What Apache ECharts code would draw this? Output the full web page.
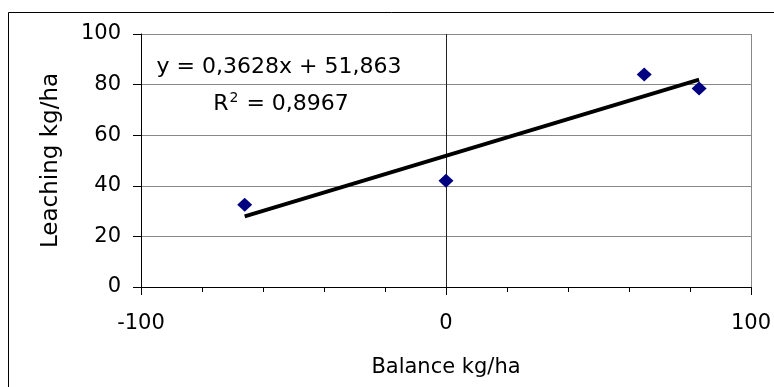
<!DOCTYPE html>
<html>
<head>
<meta charset="utf-8">
<script src="https://cdn.jsdelivr.net/npm/echarts@6/dist/echarts.min.js"></script>
<style>html,body{margin:0;padding:0;background:#fff;}#c{width:774px;height:387px;}</style>
</head>
<body>
<div id="c"></div>
<script>
const balance = [-66, 0, 65, 83];
const leaching = [32.5, 42, 84, 78.5];
const trendSlope = 0.3628;
const trendIntercept = 51.863;
const xTicks = [-100, 0, 100];
const yTicks = [0, 20, 40, 60, 80, 100];
const eqText = 'y = 0,3628x + 51,863';
const r2Text = '0,8967';

const points = balance.map((x, i) => [x, leaching[i]]);
const xMin = Math.min(...balance), xMax = Math.max(...balance);
const trend = [[xMin, trendSlope * xMin + trendIntercept], [xMax, trendSlope * xMax + trendIntercept]];

const FONT = 'DejaVu Sans';
const chart = echarts.init(document.getElementById('c'), null, {renderer: 'canvas'});
chart.setOption({
  animation: false,
  backgroundColor: '#fff',
  textStyle: {fontFamily: FONT},
  grid: {left: 141, right: 23, top: 34, bottom: 100, containLabel: false},
  xAxis: {
    type: 'value', min: xTicks[0], max: xTicks[xTicks.length - 1], interval: 100,
    name: 'Balance kg/ha', nameLocation: 'middle', nameGap: 70,
    nameTextStyle: {fontFamily: FONT, fontSize: 21, color: '#000'},
    axisLine: {show: true, onZero: false, lineStyle: {color: '#000', width: 1}},
    axisTick: {show: true, inside: false, length: 8, lineStyle: {color: '#000'}},
    minorTick: {show: true, splitNumber: 5, length: 5, lineStyle: {color: '#000'}},
    axisLabel: {fontFamily: FONT, fontSize: 21, color: '#000', margin: 26},
    splitLine: {show: true, lineStyle: {color: ['#000', '#222', '#888'], width: 1}}
  },
  yAxis: {
    type: 'value', min: yTicks[0], max: yTicks[yTicks.length - 1], interval: 20,
    name: 'Leaching kg/ha', nameLocation: 'middle', nameGap: 78,
    nameTextStyle: {fontFamily: FONT, fontSize: 23, color: '#000'},
    axisLine: {show: true, onZero: false, lineStyle: {color: '#000', width: 1}},
    axisTick: {show: true, inside: false, length: 8, lineStyle: {color: '#000'}},
    axisLabel: {fontFamily: FONT, fontSize: 21, color: '#000', margin: 20},
    splitLine: {show: true, lineStyle: {color: '#888', width: 1}}
  },
  series: [
    {
      type: 'line', data: trend, showSymbol: false, symbol: 'none',
      lineStyle: {color: '#000', width: 3.8}, silent: true, z: 3
    },
    {
      type: 'scatter', data: points, symbol: 'diamond', symbolSize: [15, 14],
      itemStyle: {color: '#000080', opacity: 1}, z: 4
    }
  ],
  graphic: [
    {type: 'rect', shape: {x: 8.5, y: 12.5, width: 800, height: 400},
     style: {fill: 'none', stroke: '#000', lineWidth: 1}, silent: true, z: -1},
    {type: 'text', x: 279, y: 67, z: 10,
     style: {text: eqText, font: '22px "DejaVu Sans"', fill: '#000', align: 'center', verticalAlign: 'middle'}},
    {type: 'text', x: 281, y: 104, z: 10,
     style: {text: '{a|R}{s|2}{a| = ' + r2Text + '}', align: 'center', verticalAlign: 'middle',
       rich: {a: {fontFamily: FONT, fontSize: 22, color: '#000', lineHeight: 26},
              s: {fontFamily: FONT, fontSize: 14, color: '#000', lineHeight: 14, padding: [0, 1, 12, 1]}}}}
  ]
});
</script>
</body>
</html>
